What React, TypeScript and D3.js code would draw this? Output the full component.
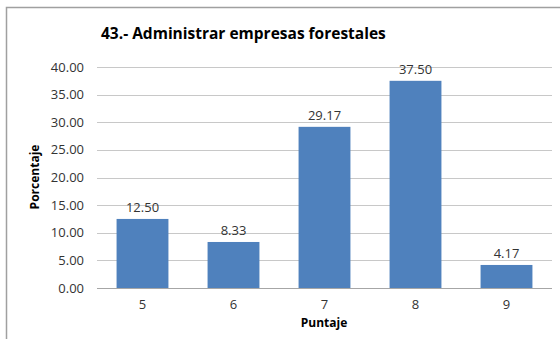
import React from "react";
import * as d3 from "d3";

const categories = ["5", "6", "7", "8", "9"];
const values = [12.5, 8.33, 29.17, 37.5, 4.17];
const yTicks = [0, 5, 10, 15, 20, 25, 30, 35, 40];
const title = "43.- Administrar empresas forestales";
const xTitle = "Puntaje";
const yTitle = "Porcentaje";

export default function App() {
  const W = 560, H = 339;
  const left = 97, right = 552, top = 67, bottom = 288;
  const x = d3.scaleBand<string>().domain(categories).range([left, right]).paddingInner(0.43).paddingOuter(0.215);
  const y = d3.scaleLinear().domain([0, 40]).range([bottom, top]);
  const font = "'Open Sans', sans-serif";
  return (
    <svg width={W} height={H} style={{ position: "absolute", left: 0, top: 0, background: "#fff" }}>
      <rect x={0} y={0} width={W} height={H} fill="#fff" />
      <path d={`M6.5,${H} V7.5 H${W}`} fill="none" stroke="#a0a0a0" strokeWidth={1.5} />
      <text x={101} y={39} fontFamily={font} fontWeight="bold" fontSize={15.5} fill="#000">{title}</text>
      {yTicks.map((t) => (
        <g key={t}>
          <line x1={left} x2={right} y1={Math.round(y(t)) + 0.5} y2={Math.round(y(t)) + 0.5} stroke={t === 0 ? "#a6a6a6" : "#c8c8c8"} strokeWidth={1} />
          <text x={84} y={y(t) + 4.5} textAnchor="end" fontFamily={font} fontSize={13} fill="#333">{t.toFixed(2)}</text>
        </g>
      ))}
      {categories.map((c, i) => (
        <g key={c}>
          <rect x={x(c)} y={y(values[i])} width={x.bandwidth()} height={bottom - y(values[i])} fill="#4f81bd" />
          <text x={x(c)! + x.bandwidth() / 2} y={y(values[i]) - 7} textAnchor="middle" fontFamily={font} fontSize={13} fill="#333">{values[i].toFixed(2)}</text>
          <text x={x(c)! + x.bandwidth() / 2} y={309} textAnchor="middle" fontFamily={font} fontSize={13} fill="#333">{c}</text>
        </g>
      ))}
      <text x={324} y={327} textAnchor="middle" fontFamily={font} fontWeight="bold" fontSize={12} fill="#000">{xTitle}</text>
      <text transform={`translate(39,177) rotate(-90)`} textAnchor="middle" fontFamily={font} fontWeight="bold" fontSize={12} fill="#000">{yTitle}</text>
    </svg>
  );
}
